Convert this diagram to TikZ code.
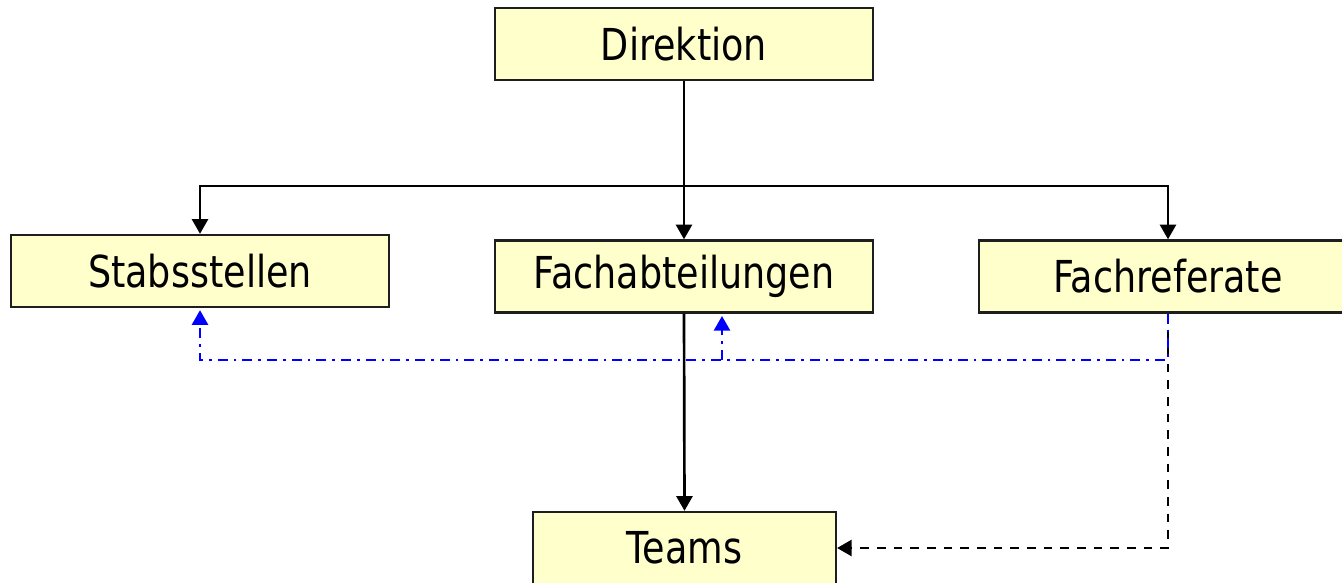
\documentclass[tikz,border=0pt]{standalone}
\usepackage{fontspec}
\setmainfont{DejaVu Sans}[FakeStretch=0.83]
\usetikzlibrary{arrows.meta}
\definecolor{boxfill}{RGB}{255,255,204}
\definecolor{boxline}{RGB}{30,30,30}
\begin{document}
\begin{tikzpicture}[x=0.75pt,y=-0.75pt,
  orgbox/.style={draw=boxline,line width=1.8pt,fill=boxfill,minimum width=283.5pt,minimum height=54pt,inner sep=0pt,font=\fontsize{33}{36}\selectfont},
  solidarrow/.style={line width=2pt,-{Triangle[width=12pt,length=11pt]}},
  bluearrow/.style={blue,line width=2pt,dash pattern=on 7.5pt off 4.5pt on 2pt off 4.5pt,-{Triangle[width=12pt,length=11pt,sep=1.5pt]}},
  blackdash/.style={line width=2pt,dash pattern=on 6.5pt off 6pt,-{Triangle[width=12pt,length=11pt]}}]
\useasboundingbox (0,0) rectangle (1342,582);
\node[orgbox] (dir) at (684,44) {Direktion};
\node[orgbox] (stab) at (200,271) {Stabsstellen};
\node[orgbox] (fachab) at (684,276.5) {Fachabteilungen};
\node[orgbox] (fachref) at (1168,276.5) {Fachreferate};
\node[orgbox,minimum width=227pt] (teams) at (684.5,548) {Teams};
\coordinate (split) at (684,186);
\coordinate (bl) at (1168,360);
\draw[solidarrow] (dir.south) -- (fachab.north);
\draw[solidarrow] (split) -| (stab.north);
\draw[solidarrow] (split) -| (fachref.north);
\draw[solidarrow] (fachab.south) -- (teams.north);
\draw[blackdash] (fachref.south) |- (teams.east);
\draw[bluearrow] (fachref.south) |- (stab.south |- bl) -- (stab.south);
\draw[bluearrow] (722,360) -- (722,314);
\end{tikzpicture}
\end{document}
